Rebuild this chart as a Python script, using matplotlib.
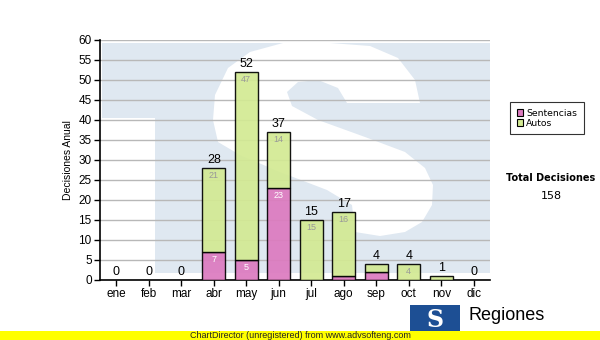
import matplotlib
matplotlib.use('Agg')
import matplotlib.pyplot as plt
from matplotlib.patches import Polygon, Rectangle
import numpy as np

meses = ['ene', 'feb', 'mar', 'abr', 'may', 'jun', 'jul', 'ago', 'sep', 'oct', 'nov', 'dic']
sentencias = [0, 0, 0, 7, 5, 23, 0, 1, 2, 0, 0, 0]
autos = [0, 0, 0, 21, 47, 14, 15, 16, 2, 4, 1, 0]
series = ['Sentencias', 'Autos']
total_label = 'Total Decisiones'

c_sent = '#dc7abf'
c_auto = '#d3ea93'

plt.rcParams['font.family'] = ['Liberation Sans', 'DejaVu Sans']

fig = plt.figure(figsize=(6, 3.4), dpi=100)

# fondo en coordenadas de pixel (marca de agua, logo, barra amarilla)
bg = fig.add_axes([0, 0, 1, 1], zorder=0)
bg.set_xlim(0, 600)
bg.set_ylim(340, 0)
bg.axis('off')

wm = '#dfe8f1'
bg.add_patch(Polygon([(102, 43), (490, 43), (490, 273), (155, 273), (155, 118), (102, 118)],
                     closed=True, fc=wm, ec='none'))
s_shape = [(420, 103), (347, 103), (338, 88), (318, 80), (298, 82), (287, 92), (292, 106),
           (318, 120), (365, 137), (405, 152), (425, 168), (433, 185), (432, 205), (422, 222),
           (405, 232), (380, 236), (355, 232), (352, 205), (327, 190), (280, 172), (240, 155),
           (218, 142), (213, 120), (215, 95), (228, 68), (250, 52), (283, 43), (330, 43),
           (370, 46), (398, 58), (415, 80)]
bg.add_patch(Polygon(s_shape, closed=True, fc='white', ec='none'))

# logo
bg.add_patch(Rectangle((410, 305), 50, 28, fc='#1d4f94', ec='none'))
bg.text(435, 320, 'S', color='white', fontsize=17, fontweight='bold', ha='center', va='center',
        family='DejaVu Serif')
bg.text(468, 316, 'Regiones', fontsize=13, ha='left', va='center')

# barra amarilla
bg.add_patch(Rectangle((0, 331), 600, 9, fc='#ffff00', ec='none'))
bg.text(190, 335.5, 'ChartDirector (unregistered) from www.advsofteng.com', fontsize=6.5,
        ha='left', va='center', color='#222222')

ax = fig.add_axes([100 / 600, 60 / 340, 390 / 600, 240 / 340], zorder=1)
ax.set_facecolor('none')

x = np.arange(len(meses))
w = 0.72
totales = [s + a for s, a in zip(sentencias, autos)]
b1 = ax.bar(x, sentencias, w, color=c_sent, edgecolor='black', lw=1, alpha=0.92, zorder=3)
b2 = ax.bar(x, autos, w, bottom=sentencias, color=c_auto, edgecolor='black', lw=1, alpha=0.92, zorder=3)
# sin borde en barras vacias
for i, t in enumerate(totales):
    if sentencias[i] == 0:
        b1[i].set_linewidth(0)
    if autos[i] == 0:
        b2[i].set_linewidth(0)

for i, t in enumerate(totales):
    ax.text(x[i], t + 0.4, str(t), ha='center', va='bottom', fontsize=9, zorder=4)
    if sentencias[i] >= 4:
        ax.text(x[i], sentencias[i] - 0.8, str(sentencias[i]), ha='center', va='top',
                fontsize=6.5, color='white', zorder=4)
    if autos[i] >= 4:
        ax.text(x[i], t - 0.8, str(autos[i]), ha='center', va='top',
                fontsize=6.5, color='#999999', zorder=4)

ax.set_xlim(-0.5, len(meses) - 0.5)
ax.set_ylim(0, 60)
ax.set_yticks(range(0, 61, 5))
ax.set_xticks(x)
ax.set_xticklabels(meses)
ax.tick_params(labelsize=8.5, length=4, width=1, pad=2)
ax.yaxis.grid(True, color='#b8b8b8', lw=1, zorder=1)
ax.set_axisbelow(True)
ax.set_ylabel('Decisiones Anual', fontsize=7.5, labelpad=4)
for sp in ['top', 'right']:
    ax.spines[sp].set_visible(False)
for sp in ['left', 'bottom']:
    ax.spines[sp].set_linewidth(1.2)

# leyenda
leg = fig.legend([Rectangle((0, 0), 1, 1, fc=c_sent, ec='black', lw=0.8),
                  Rectangle((0, 0), 1, 1, fc=c_auto, ec='black', lw=0.8)], series,
                 loc='upper left', bbox_to_anchor=(510 / 600, 1 - 102 / 340), borderaxespad=0,
                 frameon=True, fancybox=False, edgecolor='black', handlelength=0.75,
                 handleheight=0.75, handletextpad=0.3, borderpad=0.7, labelspacing=0.15,
                 prop={'family': 'DejaVu Sans', 'size': 6.7})
leg.get_frame().set_linewidth(0.8)

fig.text(551 / 600, 1 - 178 / 340, total_label, ha='center', va='center', fontsize=7,
         fontweight='bold', family='DejaVu Sans')
fig.text(551 / 600, 1 - 196 / 340, str(sum(totales)), ha='center', va='center', fontsize=8,
         family='DejaVu Sans')

fig.savefig('out.png', dpi=100)
